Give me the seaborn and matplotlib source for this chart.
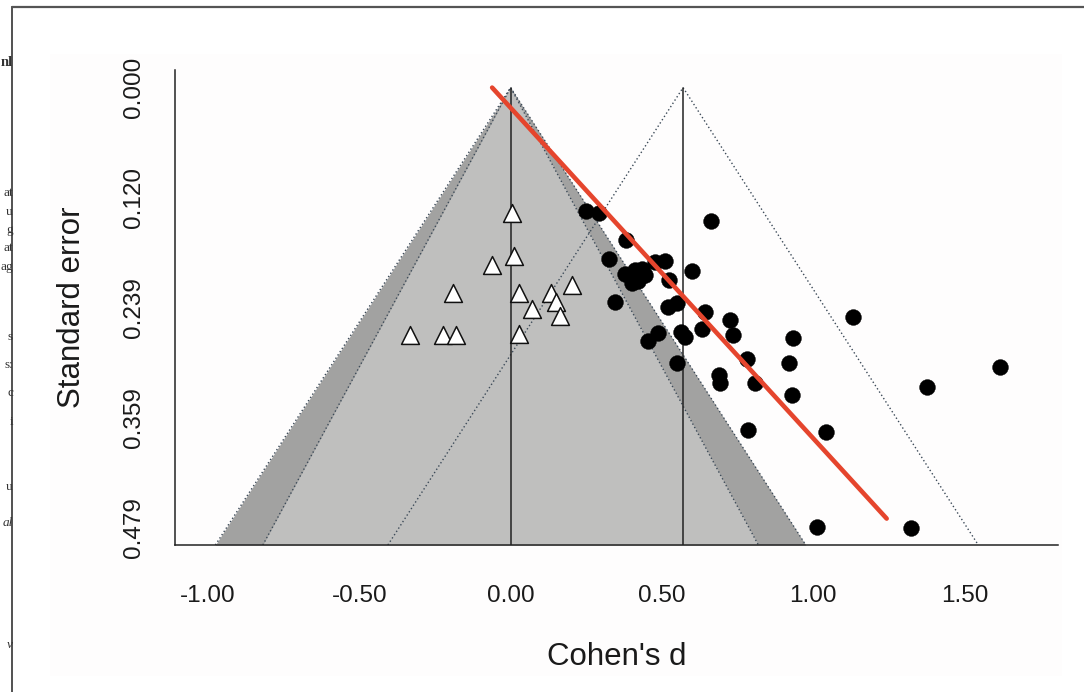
import numpy as np
import pandas as pd
import matplotlib
matplotlib.use("Agg")
import matplotlib.pyplot as plt
import seaborn as sns
from matplotlib.lines import Line2D
from matplotlib.patches import Rectangle

# ---------------- data ----------------
tri_d = [0.005, 0.012, -0.061, -0.190, 0.028, 0.135, 0.204, 0.149, 0.071, 0.163,
         -0.333, -0.223, -0.181, 0.028]
tri_se = [0.136, 0.183, 0.193, 0.224, 0.224, 0.224, 0.215, 0.233, 0.241, 0.249,
          0.269, 0.269, 0.269, 0.268]

dot_d = [0.249, 0.293, 0.662, 0.381, 0.326, 0.477, 0.510, 0.601, 0.378, 0.411,
         0.444, 0.422, 0.400, 0.434, 0.524, 0.345, 0.521, 0.549, 0.642, 0.726,
         1.132, 0.631, 0.736, 0.488, 0.455, 0.562, 0.576, 0.932, 0.780, 0.920,
         0.549, 0.689, 0.692, 0.807, 0.929, 0.783, 1.041, 1.617, 1.377, 1.013,
         1.322]
dot_se = [0.134, 0.136, 0.145, 0.166, 0.186, 0.190, 0.189, 0.200, 0.203, 0.199,
          0.204, 0.210, 0.213, 0.197, 0.209, 0.233, 0.239, 0.234, 0.244, 0.253,
          0.250, 0.263, 0.269, 0.267, 0.276, 0.266, 0.271, 0.272, 0.295, 0.300,
          0.300, 0.313, 0.321, 0.322, 0.334, 0.373, 0.375, 0.304, 0.326, 0.478,
          0.479]

x_ticks = [-1.0, -0.5, 0.0, 0.5, 1.0, 1.5]
x_tick_labels = ["-1.00", "-0.50", "0.00", "0.50", "1.00", "1.50"]
se_max = 0.4786
y_ticks = [0.0, se_max / 4, se_max / 2, 3 * se_max / 4, se_max]
y_tick_labels = ["0.000", "0.120", "0.239", "0.359", "0.479"]

null_center = 0.0
pooled_estimate = 0.570
z_inner = 1.645
z_outer = 1.96

reg_intercept = -0.061
reg_slope = 2.78
reg_se_end = 0.469

xlim = (-1.109, 1.809)
ylim = (se_max * 1.04, -se_max * 0.04)

# page-margin fragments (text of the surrounding page, cut by the frame)
frag_text = ["nl", "at", "u", "g", "at", "ag", "s", "s:", "c", "i", "u", "al", "v"]
frag_y = [63, 193, 212, 230, 248, 267, 337, 365, 393, 422, 487, 523, 645]

# ---------------- style ----------------
sns.set_style("white")
plt.rcParams["font.family"] = ["Liberation Sans", "DejaVu Sans"]

W, H = 1084, 692
fig = plt.figure(figsize=(W / 100, H / 100), dpi=100)
fig.patch.set_facecolor("white")

def fx(px):
    return px / W

def fy(py):
    return 1 - py / H

# faint panel background
fig.add_artist(Rectangle((fx(50), fy(676)), fx(1062) - fx(50), fy(54) - fy(676),
                         transform=fig.transFigure, facecolor="#fefdfd",
                         edgecolor="none", zorder=-10))

ax = fig.add_axes([fx(175), fy(545), fx(1058) - fx(175), fy(70) - fy(545)])
ax.patch.set_alpha(0)

yb = ylim[0]
light = "#bfbfbe"
dark = "#a2a2a1"
dotc = "#3c4a58"
dotted = (0, (1, 1.8))

# contour-enhanced funnel around 0
ax.fill_betweenx([0, yb], [null_center, null_center - z_outer * yb],
                 [null_center, null_center + z_outer * yb],
                 color=dark, lw=0, zorder=1)
ax.fill_betweenx([0, yb], [null_center, null_center - z_inner * yb],
                 [null_center, null_center + z_inner * yb],
                 color=light, lw=0, zorder=1.1)
for z in (z_inner, z_outer):
    ax.plot([null_center - z * yb, null_center, null_center + z * yb], [yb, 0, yb],
            color=dotc, lw=1.0, ls=dotted, zorder=2)
# funnel around pooled estimate
ax.plot([pooled_estimate - z_outer * yb, pooled_estimate, pooled_estimate + z_outer * yb],
        [yb, 0, yb], color=dotc, lw=1.0, ls=dotted, zorder=2)
# vertical reference lines
ax.plot([null_center, null_center], [0, yb], color="#222222", lw=1.1, zorder=2.5)
ax.plot([pooled_estimate, pooled_estimate], [0, yb], color="#222222", lw=1.1, zorder=2.5)

# points
df_tri = pd.DataFrame({"d": tri_d, "se": tri_se})
df_dot = pd.DataFrame({"d": dot_d, "se": dot_se})
sns.scatterplot(data=df_dot, x="d", y="se", ax=ax, marker="o", s=130,
                color="black", edgecolor="black", linewidth=0.3, zorder=4, legend=False)
sns.scatterplot(data=df_tri, x="d", y="se", ax=ax, marker="^", s=165,
                color="white", edgecolor="#111111", linewidth=1.1, zorder=4, legend=False)

# regression line
reg_se = [0.0, reg_se_end]
df_reg = pd.DataFrame({"se": reg_se,
                       "d": [reg_intercept + reg_slope * s for s in reg_se]})
sns.lineplot(data=df_reg, x="d", y="se", ax=ax, color="#e5452d", lw=3.3,
             sort=False, estimator=None, zorder=5)

ax.set_xlim(*xlim)
ax.set_ylim(*ylim)
ax.set_xticks(x_ticks)
ax.set_xticklabels(x_tick_labels)
ax.set_yticks(y_ticks)
ax.set_yticklabels(y_tick_labels, rotation=90, va="center")

for side in ("top", "right"):
    ax.spines[side].set_visible(False)
for side in ("left", "bottom"):
    ax.spines[side].set_color("#222222")
    ax.spines[side].set_linewidth(1.1)

ax.tick_params(axis="both", direction="out", length=11.5, width=1.1, color="#222222",
               labelsize=17.5, labelcolor="#1a1a1a")
ax.tick_params(axis="x", pad=17)
ax.tick_params(axis="y", pad=10)

ax.set_xlabel("Cohen's d", fontsize=22.5, color="#1a1a1a")
ax.set_ylabel("Standard error", fontsize=22.5, color="#1a1a1a")
ax.xaxis.set_label_coords(0.5, -0.205)
ax.yaxis.set_label_coords(-0.100, 0.5)

# page frame
fig.add_artist(Line2D([fx(12), fx(12)], [fy(7), fy(692)], transform=fig.transFigure,
                      color="#333333", lw=1.2))
fig.add_artist(Line2D([fx(12), fx(1084)], [fy(7), fy(7)], transform=fig.transFigure,
                      color="#555555", lw=1.6))

for t, y in zip(frag_text, frag_y):
    style = "italic" if t in ("al", "v") else "normal"
    weight = "bold" if t == "nl" else "normal"
    size = 10.5 if t == "nl" else 9.5
    fig.text(fx(13), fy(y), t, ha="right", va="center", fontsize=size,
             family=["Liberation Serif", "DejaVu Serif"], style=style,
             weight=weight, color="#333333")

fig.savefig("out.png", dpi=100, facecolor="white")
